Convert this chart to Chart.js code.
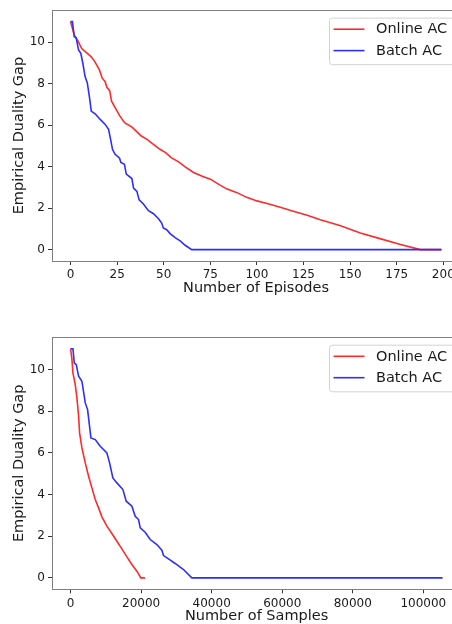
<!DOCTYPE html>
<html><head><meta charset="utf-8">
<script src="https://cdn.jsdelivr.net/npm/chart.js@4"></script>
<style>
html,body{margin:0;padding:0;background:#fff;width:452px;height:624px;overflow:hidden;position:relative;}
.wrap{position:absolute;left:0;width:452px;overflow:hidden;}
#w1{top:0;height:310px;}
#w2{top:310px;height:314px;}
canvas{display:block;}
</style></head>
<body>
<div class="wrap" id="w1"><canvas id="c1" width="470" height="310" style="width:470px;height:310px"></canvas></div>
<div class="wrap" id="w2"><canvas id="c2" width="470" height="330" style="width:470px;height:330px"></canvas></div>
<script>
// ---- Data ----
const seriesNames = ["Online AC", "Batch AC"];

// Top panel: gap vs number of episodes
const episodesOnline = [0, 2, 4, 6, 9, 11, 13, 15.5, 17, 18.5, 19.5, 21, 22, 24, 26.5, 29, 33, 35.5, 38, 41, 44.5, 48, 51, 54, 58, 61.5, 66, 71, 75, 80, 84, 89, 94.5, 100, 105, 112.5, 119.5, 127, 134, 144.5, 155.5, 166, 177, 187.7, 199];
const gapOnlineEp    = [11.0, 10.35, 10.06, 9.7, 9.47, 9.31, 9.07, 8.67, 8.27, 8.11, 7.83, 7.67, 7.16, 6.84, 6.44, 6.12, 5.91, 5.69, 5.48, 5.32, 5.08, 4.84, 4.68, 4.44, 4.23, 3.99, 3.72, 3.53, 3.40, 3.12, 2.92, 2.76, 2.52, 2.35, 2.24, 2.04, 1.85, 1.66, 1.44, 1.16, 0.80, 0.53, 0.25, 0, 0];
const episodesBatch  = [0, 1, 2, 3, 4.3, 5.5, 6.6, 7.8, 9, 10.2, 11.1, 13.2, 15.9, 18.6, 20.4, 21.3, 22.5, 23.9, 26.3, 27, 28.9, 29.9, 32.9, 33.8, 35.6, 36.8, 39.1, 41.8, 44.5, 47.2, 48.9, 49.8, 51.6, 53.4, 56.1, 58.8, 61.5, 65, 199];
const gapBatchEp     = [11.0, 11.0, 10.27, 10.22, 9.63, 9.47, 8.99, 8.35, 8.04, 7.32, 6.68, 6.55, 6.28, 6.04, 5.80, 5.40, 4.84, 4.60, 4.41, 4.20, 4.12, 3.64, 3.43, 2.97, 2.81, 2.40, 2.20, 1.88, 1.73, 1.49, 1.28, 1.04, 0.96, 0.77, 0.58, 0.42, 0.21, 0, 0];

// Bottom panel: gap vs number of samples
const samplesOnline  = [0, 380, 660, 1320, 1790, 2270, 2550, 3210, 4160, 5100, 6040, 6990, 7930, 8880, 10290, 11710, 13130, 14540, 15960, 17380, 18790, 19920, 21150];
const gapOnlineS     = [11.0, 10.48, 9.84, 9.28, 8.64, 7.76, 6.96, 6.24, 5.52, 4.88, 4.32, 3.76, 3.36, 2.93, 2.48, 2.13, 1.76, 1.39, 1.01, 0.64, 0.32, 0, 0];
const samplesBatch   = [0, 660, 1040, 1600, 2270, 3210, 4160, 4820, 5760, 6990, 8400, 10290, 11050, 11990, 13130, 14830, 15770, 17380, 18320, 19260, 19740, 21150, 22570, 24460, 25870, 26350, 27760, 29650, 32010, 34370, 105470];
const gapBatchS      = [11.0, 11.0, 10.32, 10.24, 9.68, 9.44, 8.40, 8.08, 6.72, 6.64, 6.32, 6.00, 5.52, 4.80, 4.56, 4.24, 3.68, 3.44, 2.96, 2.80, 2.40, 2.19, 1.84, 1.60, 1.33, 1.07, 0.91, 0.69, 0.40, 0, 0];

// Ticks
const yTicks = [0, 2, 4, 6, 8, 10];
const xTicksEpisodes = [0, 25, 50, 75, 100, 125, 150, 175, 200];
const xTicksSamples = [0, 20000, 40000, 60000, 80000, 100000];

// ---- Rendering ----
const FONT = "'DejaVu Sans', sans-serif";
const RED = '#ff2a2a', BLUE = '#2e2eff';
const TXT = '#1a1a1a';

function pts(xs, ys) { return xs.map((x, i) => ({x: x, y: ys[i]})); }

const framePlugin = {
  id: 'frame',
  afterDatasetsDraw(chart) {
    const a = chart.chartArea, ctx = chart.ctx;
    ctx.save();
    ctx.strokeStyle = '#808080';
    ctx.lineWidth = 1;
    ctx.strokeRect(Math.round(a.left) + 0.5, Math.round(a.top) + 0.5, Math.round(a.right - a.left), Math.round(a.bottom - a.top));
    ctx.restore();
  },
  afterDraw(chart) {
    const a = chart.chartArea, ctx = chart.ctx;
    const left = 329, h = 46.6;
    const right = a.right - 4, top = a.top + 7.4, w = right - left;
    ctx.save();
    ctx.beginPath();
    ctx.roundRect(left + 0.5, top + 0.5, w, h, 3);
    ctx.fillStyle = 'rgba(255,255,255,0.85)';
    ctx.fill();
    ctx.strokeStyle = '#d2d2d2';
    ctx.lineWidth = 1;
    ctx.stroke();
    const rows = [top + 11.6, top + 33];
    chart.data.datasets.forEach((ds, i) => {
      ctx.beginPath();
      ctx.strokeStyle = ds.borderColor;
      ctx.lineWidth = 1.6;
      ctx.moveTo(left + 4.5, rows[i]);
      ctx.lineTo(left + 35.5, rows[i]);
      ctx.stroke();
      ctx.fillStyle = TXT;
      ctx.font = "14.5px " + FONT;
      ctx.textBaseline = 'middle';
      ctx.textAlign = 'left';
      ctx.fillText(ds.label, left + 47, rows[i] + 0.5);
    });
    ctx.restore();
  }
};

function makeChart(id, onX, onY, baX, baY, xMin, xMax, xTicks, xTitle, padTop, padBottom, padRight) {
  return new Chart(document.getElementById(id), {
    type: 'line',
    data: {
      datasets: [
        {label: seriesNames[0], data: pts(onX, onY), borderColor: RED, borderWidth: 1.6, pointRadius: 0, tension: 0, fill: false, order: 2},
        {label: seriesNames[1], data: pts(baX, baY), borderColor: BLUE, borderWidth: 1.6, pointRadius: 0, tension: 0, fill: false, order: 1}
      ]
    },
    options: {
      responsive: false,
      animation: false,
      events: [],
      layout: {padding: {top: padTop, bottom: padBottom, left: 0, right: padRight}},
      plugins: {legend: {display: false}, tooltip: {enabled: false}},
      scales: {
        x: {
          type: 'linear', min: xMin, max: xMax,
          afterBuildTicks: s => { s.ticks = xTicks.map(v => ({value: v})); },
          afterFit: s => { s.height = 36; },
          grid: {drawOnChartArea: false, drawTicks: true, tickLength: 4, tickWidth: 1, tickColor: '#333'},
          border: {display: false},
          ticks: {font: {family: FONT, size: 12}, color: TXT, padding: 3, maxRotation: 0, autoSkip: false, callback: v => String(v)},
          title: {display: true, text: xTitle, font: {family: FONT, size: 14.5}, color: TXT, padding: 0}
        },
        y: {
          type: 'linear', min: -0.55, max: 11.55,
          afterBuildTicks: s => { s.ticks = yTicks.map(v => ({value: v})); },
          afterFit: s => { s.width = 52; },
          grid: {drawOnChartArea: false, drawTicks: true, tickLength: 4, tickWidth: 1, tickColor: '#333'},
          border: {display: false},
          ticks: {font: {family: FONT, size: 12}, color: TXT, padding: 3, autoSkip: false, callback: v => String(v)},
          title: {display: true, text: 'Empirical Duality Gap', font: {family: FONT, size: 14.5}, color: TXT, padding: {top: 10.3, bottom: 0}}
        }
      }
    },
    plugins: [framePlugin]
  });
}

makeChart('c1', episodesOnline, gapOnlineEp, episodesBatch, gapBatchEp, -9.95, 208.95, xTicksEpisodes, 'Number of Episodes', 8.3, 13, 10);
makeChart('c2', samplesOnline, gapOnlineS, samplesBatch, gapBatchS, -5273, 110743, xTicksSamples, 'Number of Samples', 27.3, 14.7, 8.8);
</script>
</body></html>
